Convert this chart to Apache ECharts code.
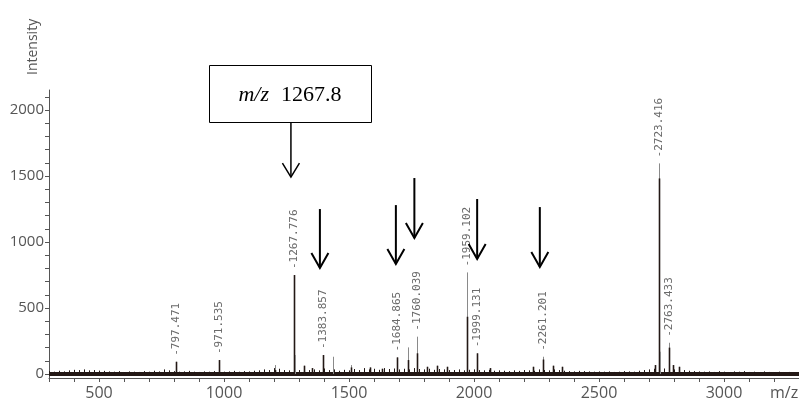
<!DOCTYPE html>
<html>
<head>
<meta charset="utf-8">
<script src="https://cdn.jsdelivr.net/npm/echarts@6/dist/echarts.min.js"></script>
<style>
html,body{margin:0;padding:0;background:#fff;}
#chart{width:799px;height:405px;}
</style>
</head>
<body>
<div id="chart"></div>
<script>
// ---- data ----
const xTickLabels = [500, 1000, 1500, 2000, 2500, 3000];
const yTickLabels = [0, 500, 1000, 1500, 2000];

// baseline noise, one value every 20 m/z starting at 300
const noiseStart = 300;
const noiseStep = 20;
const noiseValues = [
  22, 18, 25, 20, 28, 32, 30, 35, 28, 30, 26,
  24, 20, 18, 22, 15, 20, 18, 16, 22, 18,
  25, 20, 35, 28, 22, 18, 20, 24, 18, 16,
  20, 18, 22, 30, 18, 20, 24, 18, 22, 20,
  25, 28, 35, 30, 45, 40, 30, 28, 35, 30,
  40, 30, 35, 28, 42, 30, 35, 25, 32, 28,
  38, 30, 45, 35, 40, 32, 45, 38, 42, 35,
  40, 35, 45, 38, 35, 40, 32, 38, 35, 30,
  30, 35, 28, 32, 35, 30, 28, 32, 25, 28,
  25, 22, 28, 24, 30, 28, 25, 35, 30, 28,
  35, 30, 25, 22, 20, 24, 22, 20, 18, 20,
  18, 20, 16, 18, 22, 20, 18, 25, 30, 35,
  40, 45, 42, 38, 35, 40, 30, 25, 22, 20,
  18, 20, 16, 22, 18, 15, 20, 18, 22, 16,
  18, 15, 20, 16, 14, 18, 15, 16, 14, 12
];

// peaks: position (as drawn on the axis), full height (grey tip), dark core height
const peakMz = [806.7, 981.0, 1203.7, 1278.5, 1283.7, 1319.7, 1350.5, 1394.4, 1434.4, 1507.6,
  1583.6, 1630.3, 1690.3, 1735.5, 1773.5, 1810.3, 1850.3, 1890.3, 1973.5, 2012.6,
  2063.4, 2236.5, 2274.1, 2316.5, 2350.1, 2723.1, 2740.3, 2745.9, 2780.3, 2796.3, 2820.3];
const peakHeight = [93, 106, 68, 750, 144, 63, 45, 144, 131, 68,
  50, 40, 126, 202, 283, 55, 63, 55, 770, 157,
  45, 55, 131, 63, 55, 68, 1596, 169, 237, 68, 55];
const peakCore = [93, 106, 30, 750, 0, 63, 45, 144, 0, 50,
  50, 40, 126, 106, 157, 55, 63, 55, 434, 157,
  45, 55, 110, 63, 55, 68, 1482, 0, 200, 68, 55];
const peakLabel = ['797.471', '971.535', '', '1267.776', '', '', '', '1383.857', '', '',
  '', '', '1684.865', '', '1760.039', '', '', '', '1959.102', '1999.131',
  '', '', '2261.201', '', '', '', '2723.416', '', '2763.433', '', ''];

// arrows: m/z position, start intensity, tip intensity
const arrowMz = [1267.7, 1383.6, 1687.5, 1761.5, 2012.6, 2263.3];
const arrowTop = [1909, 1250, 1280, 1485, 1326, 1265];
const arrowTip = [1492, 803, 833, 1030, 871, 811];
const boxText = '1267.8';

// ---- build chart ----
const DARK = '#231815';
const noiseData = noiseValues.map((v, i) => [noiseStart + noiseStep * i, v]);
const peakData = peakMz.map((m, i) => [m, peakHeight[i], peakCore[i]]);
const arrowData = arrowMz.map((m, i) => [m, arrowTop[i], arrowTip[i]]);
const yTicks = [];
for (let v = 0; v <= 2100; v += 100) yTicks.push(v);
const xTicks = [];
for (let v = 300; v <= 3300; v += 100) xTicks.push(v);

const chart = echarts.init(document.getElementById('chart'), null, {renderer: 'canvas'});
const snap = x => Math.round(x) + 0.5;
const plain = v => String(v);

chart.setOption({
  animation: false,
  backgroundColor: '#fff',
  grid: {left: 49, right: 0, top: 90, bottom: 27, containLabel: false, outerBoundsMode: 'none'},
  xAxis: {
    type: 'value', min: 300, max: 3300,
    name: 'm/z', nameLocation: 'end', nameGap: -29,
    nameTextStyle: {color: '#555', fontSize: 16, fontFamily: 'Open Sans', align: 'left', verticalAlign: 'top', lineHeight: 30},
    axisLine: {show: true, onZero: false, lineStyle: {color: '#555', width: 1}},
    axisTick: {show: true, customValues: xTicks, length: 4, inside: false, lineStyle: {color: '#555'}},
    axisLabel: {customValues: xTickLabels, formatter: plain, color: '#555', fontSize: 16, fontFamily: 'Open Sans', margin: 7},
    splitLine: {show: false}
  },
  yAxis: {
    type: 'value', min: -30, max: 2152,
    name: 'Intensity', nameLocation: 'end', nameRotate: 90, nameGap: 15,
    nameTextStyle: {color: '#555', fontSize: 14, fontFamily: 'Open Sans', verticalAlign: 'bottom', lineHeight: 32},
    axisLine: {show: true, onZero: false, lineStyle: {color: '#555', width: 1}},
    axisTick: {show: true, customValues: yTicks, length: 4, lineStyle: {color: '#555'}},
    axisLabel: {customValues: yTickLabels, formatter: plain, color: '#555', fontSize: 15, fontFamily: 'Open Sans', margin: 5},
    splitLine: {show: false}
  },
  series: [
    {
      type: 'line', data: [[300, 0], [3300, 0]], symbol: 'none', z: 2,
      lineStyle: {color: DARK, width: 4}
    },
    {
      type: 'custom', data: noiseData, z: 3, encode: {x: 0, y: 1},
      renderItem: function (params, api) {
        const x = api.value(0), h = api.value(1);
        const p0 = api.coord([x, -12]), p1 = api.coord([x, h]);
        const px = snap(p0[0]);
        return {type: 'line', shape: {x1: px, y1: p0[1], x2: px, y2: p1[1]},
          style: {stroke: DARK, lineWidth: 1}};
      }
    },
    {
      type: 'custom', data: peakData, z: 4, encode: {x: 0, y: 1},
      renderItem: function (params, api) {
        const x = api.value(0), h = api.value(1), c = api.value(2);
        const p0 = api.coord([x, 0]), pt = api.coord([x, h]), pc = api.coord([x, c]);
        const px = snap(p0[0]);
        const children = [
          {type: 'line', shape: {x1: px, y1: p0[1], x2: px, y2: pt[1]}, style: {stroke: '#8a8a8a', lineWidth: 1}}
        ];
        if (c > 0) {
          children.push({type: 'line', shape: {x1: px, y1: p0[1], x2: px, y2: pc[1]}, style: {stroke: DARK, lineWidth: 1.6}});
        }
        const lab = peakLabel[params.dataIndex];
        if (lab) {
          children.push({type: 'text', x: px, y: pt[1] - 6, rotation: Math.PI / 2,
            style: {text: '-' + lab, fill: '#6a6a6a', font: '11px "DejaVu Sans Mono"', align: 'left', verticalAlign: 'middle'}});
        }
        return {type: 'group', children: children};
      }
    },
    {
      type: 'custom', data: arrowData, z: 10, clip: false, encode: {x: 0, y: 1},
      renderItem: function (params, api) {
        const x = api.value(0), t = api.value(1), tip = api.value(2);
        const pa = api.coord([x, t]), pb = api.coord([x, tip]);
        const main = params.dataIndex === 0;
        const lw = main ? 1.5 : 2;
        const hw = 8.5, hh = main ? 14 : 15;
        const children = [
          {type: 'line', shape: {x1: pa[0], y1: pa[1], x2: pb[0], y2: pb[1]}, style: {stroke: '#000', lineWidth: lw}},
          {type: 'polyline', shape: {points: [[pb[0] - hw, pb[1] - hh], [pb[0], pb[1]], [pb[0] + hw, pb[1] - hh]]},
            style: {stroke: '#000', lineWidth: lw, fill: null}}
        ];
        if (main) {
          const bw = 162, bh = 57;
          children.push({type: 'rect', shape: {x: Math.round(pa[0] - 1 - bw / 2) + 0.5, y: Math.round(pa[1] - bh) + 0.5, width: bw, height: bh},
            style: {stroke: '#000', lineWidth: 1, fill: '#fff'}});
          children.push({type: 'text', x: pa[0] - 1, y: pa[1] - bh / 2 + 2,
            style: {text: '{i|m/z}{n|' + boxText + '}', align: 'center', verticalAlign: 'middle', fill: '#000',
              rich: {
                i: {fontFamily: 'Liberation Serif', fontStyle: 'italic', fontSize: 22, fill: '#000'},
                n: {fontFamily: 'Liberation Serif', fontSize: 22, fill: '#000', padding: [0, 0, 0, 12]}
              }}});
        }
        return {type: 'group', children: children};
      }
    }
  ]
});
</script>
</body>
</html>
